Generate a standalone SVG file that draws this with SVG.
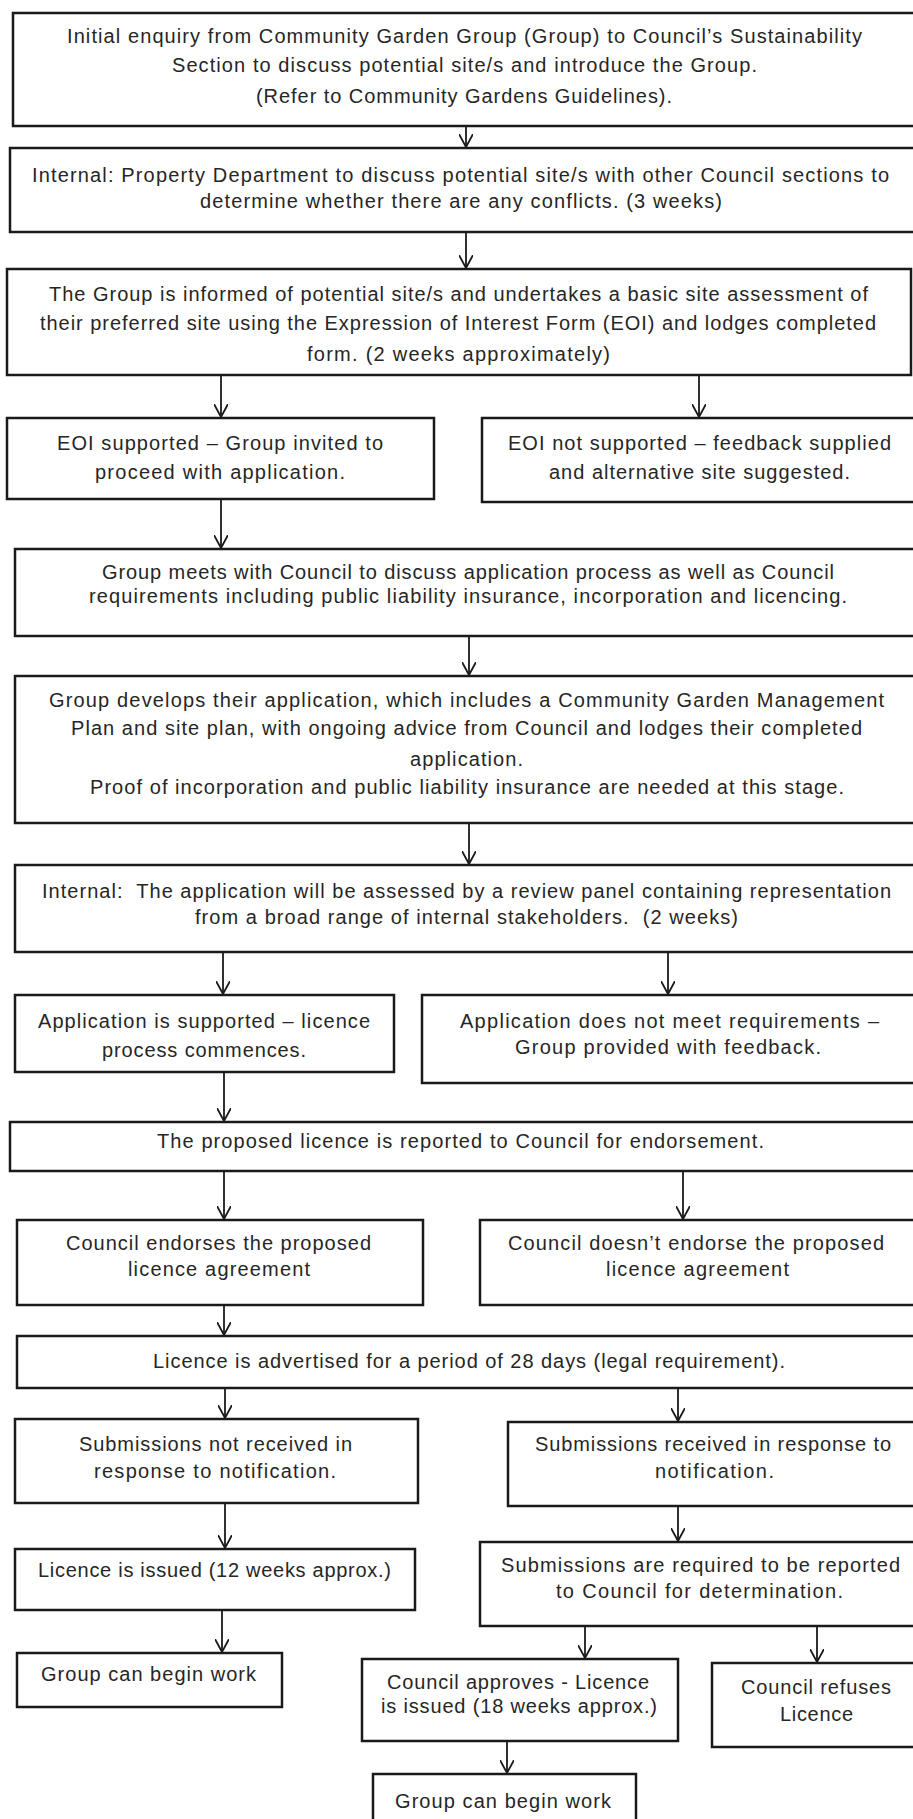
<svg xmlns="http://www.w3.org/2000/svg" width="913" height="1819" viewBox="0 0 913 1819">
<style>
.b{fill:#fff;stroke:#1a1a1a;stroke-width:2.5}
.t{font-family:"Liberation Sans",Arial,sans-serif;font-size:20px;fill:#262626;text-anchor:middle}
.c{stroke:#1a1a1a;stroke-width:1.8;fill:none}
</style>
<defs>
<marker id="ah" viewBox="0 0 14 14" refX="13" refY="7" markerWidth="14" markerHeight="14" orient="auto" markerUnits="userSpaceOnUse">
<path d="M0,0 L13,7 L0,14" fill="none" stroke="#1a1a1a" stroke-width="1.8"/>
</marker>
</defs>
<rect width="913" height="1819" fill="#fff"/>
<g id="connectors">
<line class="c" x1="466" y1="126" x2="466" y2="147" marker-end="url(#ah)"/>
<line class="c" x1="466" y1="232" x2="466" y2="268" marker-end="url(#ah)"/>
<line class="c" x1="221" y1="375" x2="221" y2="417" marker-end="url(#ah)"/>
<line class="c" x1="699" y1="375" x2="699" y2="417" marker-end="url(#ah)"/>
<line class="c" x1="221" y1="499" x2="221" y2="548" marker-end="url(#ah)"/>
<line class="c" x1="469" y1="636" x2="469" y2="675" marker-end="url(#ah)"/>
<line class="c" x1="469" y1="823" x2="469" y2="864" marker-end="url(#ah)"/>
<line class="c" x1="223" y1="952" x2="223" y2="994" marker-end="url(#ah)"/>
<line class="c" x1="668" y1="952" x2="668" y2="994" marker-end="url(#ah)"/>
<line class="c" x1="224" y1="1072" x2="224" y2="1121" marker-end="url(#ah)"/>
<line class="c" x1="224" y1="1171" x2="224" y2="1219" marker-end="url(#ah)"/>
<line class="c" x1="683" y1="1171" x2="683" y2="1219" marker-end="url(#ah)"/>
<line class="c" x1="224" y1="1305" x2="224" y2="1335" marker-end="url(#ah)"/>
<line class="c" x1="225" y1="1388" x2="225" y2="1418" marker-end="url(#ah)"/>
<line class="c" x1="678" y1="1388" x2="678" y2="1421" marker-end="url(#ah)"/>
<line class="c" x1="225" y1="1503" x2="225" y2="1548" marker-end="url(#ah)"/>
<line class="c" x1="678" y1="1506" x2="678" y2="1541" marker-end="url(#ah)"/>
<line class="c" x1="222" y1="1610" x2="222" y2="1652" marker-end="url(#ah)"/>
<line class="c" x1="585" y1="1626" x2="585" y2="1658" marker-end="url(#ah)"/>
<line class="c" x1="817" y1="1627" x2="817" y2="1662" marker-end="url(#ah)"/>
<line class="c" x1="507" y1="1741" x2="507" y2="1773" marker-end="url(#ah)"/>
</g>
<g id="n1"><rect class="b" x="13" y="13" width="910" height="113"/>
<text class="t" x="464.5" y="43" textLength="795">Initial enquiry from Community Garden Group (Group) to Council’s Sustainability</text>
<text class="t" x="464.5" y="72" textLength="585">Section to discuss potential site/s and introduce the Group.</text>
<text class="t" x="464" y="103" textLength="416">(Refer to Community Gardens Guidelines).</text></g>
<g id="n2"><rect class="b" x="10" y="148" width="913" height="84"/>
<text class="t" x="460.5" y="182" textLength="857">Internal: Property Department to discuss potential site/s with other Council sections to</text>
<text class="t" x="461" y="208" textLength="522">determine whether there are any conflicts. (3 weeks)</text></g>
<g id="n3"><rect class="b" x="7" y="269" width="904" height="106"/>
<text class="t" x="458.5" y="301" textLength="819">The Group is informed of potential site/s and undertakes a basic site assessment of</text>
<text class="t" x="458" y="330" textLength="836">their preferred site using the Expression of Interest Form (EOI) and lodges completed</text>
<text class="t" x="458.5" y="361" textLength="303">form. (2 weeks approximately)</text></g>
<g id="n4a"><rect class="b" x="7" y="418" width="427" height="81"/>
<text class="t" x="220" y="450" textLength="326">EOI supported – Group invited to</text>
<text class="t" x="220" y="479" textLength="250">proceed with application.</text></g>
<g id="n4b"><rect class="b" x="482" y="418" width="441" height="84"/>
<text class="t" x="699.5" y="450" textLength="383">EOI not supported – feedback supplied</text>
<text class="t" x="699.5" y="479" textLength="301">and alternative site suggested.</text></g>
<g id="n5"><rect class="b" x="15" y="549" width="908" height="87"/>
<text class="t" x="468" y="579" textLength="732">Group meets with Council to discuss application process as well as Council</text>
<text class="t" x="468" y="603" textLength="758">requirements including public liability insurance, incorporation and licencing.</text></g>
<g id="n6"><rect class="b" x="15" y="676" width="908" height="147"/>
<text class="t" x="466.5" y="707" textLength="835">Group develops their application, which includes a Community Garden Management</text>
<text class="t" x="466.5" y="735" textLength="791">Plan and site plan, with ongoing advice from Council and lodges their completed</text>
<text class="t" x="466.5" y="766" textLength="113">application.</text>
<text class="t" x="467" y="794" textLength="754">Proof of incorporation and public liability insurance are needed at this stage.</text></g>
<g id="n7"><rect class="b" x="15" y="865" width="908" height="87"/>
<text class="t" x="466.5" y="898" textLength="849" xml:space="preserve">Internal:  The application will be assessed by a review panel containing representation</text>
<text class="t" x="466.5" y="924" textLength="543" xml:space="preserve">from a broad range of internal stakeholders.  (2 weeks)</text></g>
<g id="n8a"><rect class="b" x="15" y="995" width="379" height="77"/>
<text class="t" x="204" y="1028" textLength="332">Application is supported – licence</text>
<text class="t" x="204" y="1057" textLength="204">process commences.</text></g>
<g id="n8b"><rect class="b" x="422" y="995" width="501" height="88"/>
<text class="t" x="669.5" y="1028" textLength="419">Application does not meet requirements –</text>
<text class="t" x="668" y="1054" textLength="306">Group provided with feedback.</text></g>
<g id="n9"><rect class="b" x="10" y="1122" width="913" height="49"/>
<text class="t" x="460.5" y="1148" textLength="607">The proposed licence is reported to Council for endorsement.</text></g>
<g id="n10a"><rect class="b" x="17" y="1220" width="406" height="85"/>
<text class="t" x="218.5" y="1250" textLength="305">Council endorses the proposed</text>
<text class="t" x="219" y="1276" textLength="182">licence agreement</text></g>
<g id="n10b"><rect class="b" x="480" y="1220" width="443" height="85"/>
<text class="t" x="696" y="1250" textLength="376">Council doesn’t endorse the proposed</text>
<text class="t" x="697.5" y="1276" textLength="183">licence agreement</text></g>
<g id="n11"><rect class="b" x="17" y="1336" width="906" height="52"/>
<text class="t" x="469" y="1368" textLength="632">Licence is advertised for a period of 28 days (legal requirement).</text></g>
<g id="n12a"><rect class="b" x="15" y="1419" width="403" height="84"/>
<text class="t" x="215.5" y="1451" textLength="273">Submissions not received in</text>
<text class="t" x="215" y="1478" textLength="242">response to notification.</text></g>
<g id="n12b"><rect class="b" x="508" y="1422" width="415" height="84"/>
<text class="t" x="713" y="1451" textLength="356">Submissions received in response to</text>
<text class="t" x="714.5" y="1478" textLength="119">notification.</text></g>
<g id="n13a"><rect class="b" x="15" y="1549" width="400" height="61"/>
<text class="t" x="214.5" y="1577" textLength="353">Licence is issued (12 weeks approx.)</text></g>
<g id="n13b"><rect class="b" x="480" y="1542" width="443" height="84"/>
<text class="t" x="700.5" y="1572" textLength="399">Submissions are required to be reported</text>
<text class="t" x="699.5" y="1598" textLength="287">to Council for determination.</text></g>
<g id="n14a"><rect class="b" x="17" y="1653" width="265" height="54"/>
<text class="t" x="148.5" y="1681" textLength="215">Group can begin work</text></g>
<g id="n14b"><rect class="b" x="362" y="1659" width="316" height="82"/>
<text class="t" x="518" y="1689" textLength="262">Council approves - Licence</text>
<text class="t" x="519" y="1713" textLength="276">is issued (18 weeks approx.)</text></g>
<g id="n14c"><rect class="b" x="712" y="1663" width="211" height="84"/>
<text class="t" x="816" y="1694" textLength="150">Council refuses</text>
<text class="t" x="816.5" y="1721" textLength="73">Licence</text></g>
<g id="n15"><rect class="b" x="373" y="1774" width="263" height="60"/>
<text class="t" x="503" y="1808" textLength="216">Group can begin work</text></g>
</svg>
